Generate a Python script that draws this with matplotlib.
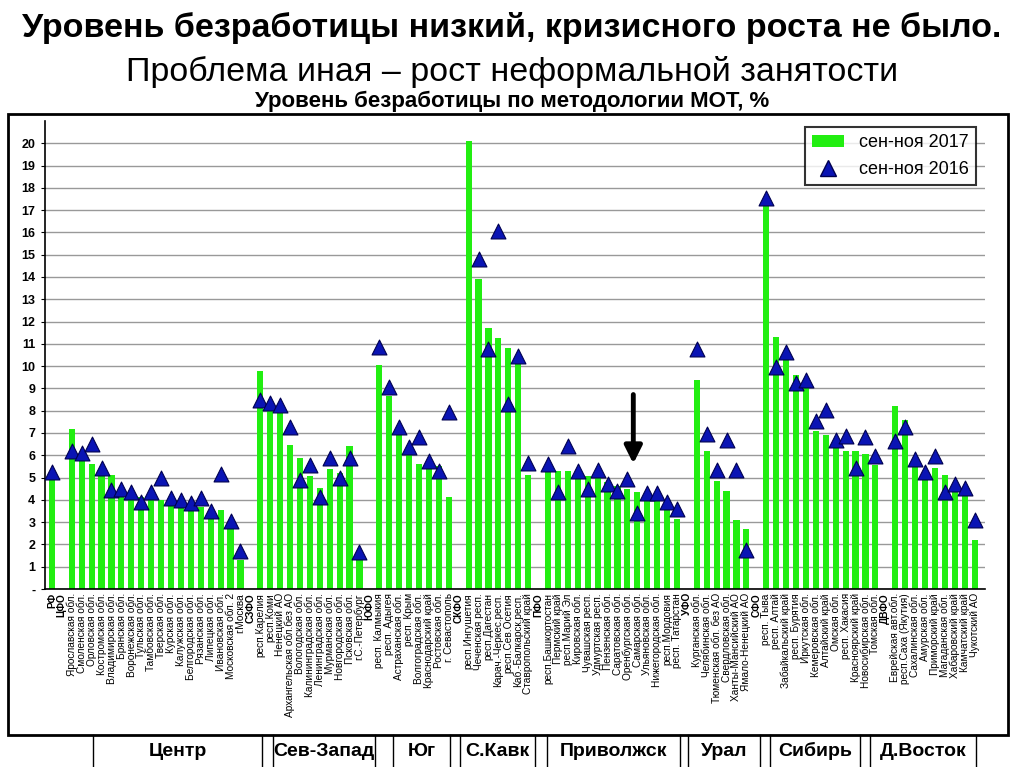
import numpy as np
import matplotlib
matplotlib.use('Agg')
from matplotlib import pyplot as plt
from matplotlib.lines import Line2D
from matplotlib.patches import Patch, Rectangle

plt.rcParams['font.family'] = ['Liberation Sans', 'DejaVu Sans']

# regions (district rows are empty slots)
regions = [
    'РФ', 'ЦФО', 'Ярославская обл.', 'Смоленская обл.', 'Орловская обл.', 'Костромская обл.',
    'Владимирская обл.', 'Брянская обл.', 'Воронежская обл.', 'Тульская обл.', 'Тамбовская обл.',
    'Тверская обл.', 'Курская обл.', 'Калужская обл.', 'Белгородская обл.', 'Рязанская обл.',
    'Липецкая обл.', 'Ивановская обл.', 'Московская обл. 2', 'г.Москва',
    'СЗФО', 'респ.Карелия', 'респ.Коми', 'Ненецкий АО', 'Архангельская обл.без АО',
    'Вологодская обл.', 'Калининградская обл.', 'Ленинградская обл.', 'Мурманская обл.',
    'Новгородская обл.', 'Псковская обл.', 'г.С.-Петербург',
    'ЮФО', 'респ. Калмыкия', 'респ. Адыгея', 'Астраханская обл.', 'респ. Крым',
    'Волгоградская обл.', 'Краснодарский край', 'Ростовская обл.', 'г. Севастополь',
    'СКФО', 'респ.Ингушетия', 'Чеченская респ.', 'респ.Дагестан', 'Карач.-Черкес.респ.',
    'респ.Сев.Осетия', 'Каб.-Балкарск.респ.', 'Ставропольский край',
    'ПФО', 'респ.Башкортостан', 'Пермский край', 'респ.Марий Эл', 'Кировская обл.',
    'Чувашская респ.', 'Удмуртская респ.', 'Пензенская обл.', 'Саратовская обл.',
    'Оренбургская обл.', 'Самарская обл.', 'Ульяновская обл.', 'Нижегородская обл.',
    'респ.Мордовия', 'респ. Татарстан',
    'УФО', 'Курганская обл.', 'Челябинская обл.', 'Тюменская обл. без АО', 'Свердловская обл.',
    'Ханты-Мансийский АО', 'Ямало-Ненецкий АО',
    'СФО', 'респ. Тыва', 'респ. Алтай', 'Забайкальский край', 'респ. Бурятия', 'Иркутская обл.',
    'Кемеровская обл.', 'Алтайский край', 'Омская обл.', 'респ. Хакасия', 'Красноярский край',
    'Новосибирская обл.', 'Томская обл.',
    'ДВФО', 'Еврейская авт.обл.', 'респ.Саха (Якутия)', 'Сахалинская обл.', 'Амурская обл.',
    'Приморский край', 'Магаданская обл.', 'Хабаровский край', 'Камчатский край', 'Чукотский АО',
]
districts = ['РФ', 'ЦФО', 'СЗФО', 'ЮФО', 'СКФО', 'ПФО', 'УФО', 'СФО', 'ДВФО']

n = np.nan
# сен-ноя 2017
u2017 = [
    5.1, n, 7.2, 6.0, 5.6, 5.3, 5.1, 4.4, 4.2, 4.15, 4.1, 4.0, 3.9, 3.85, 3.8, 3.7, 3.3, 3.55, 2.8, 1.3,
    n, 9.8, 8.2, 7.9, 6.45, 5.9, 5.05, 4.55, 5.4, 5.2, 6.4, 1.4,
    n, 10.05, 8.65, 7.05, 6.1, 5.6, 5.55, 5.5, 4.15,
    n, 20.1, 13.9, 11.7, 11.25, 10.8, 10.3, 5.1,
    n, 5.35, 5.3, 5.3, 5.2, 5.05, 5.0, 4.8, 4.6, 4.5, 4.35, 4.1, 4.05, 3.65, 3.15,
    n, 9.4, 6.2, 4.85, 4.4, 3.1, 2.7,
    n, 17.4, 11.3, 10.5, 9.6, 9.05, 7.1, 6.9, 6.45, 6.2, 6.2, 6.05, 5.55,
    n, 8.2, 7.6, 5.6, 5.05, 5.45, 5.1, 4.6, 4.3, 2.2,
]
# сен-ноя 2016
u2016 = [
    5.25, n, 6.2, 6.1, 6.5, 5.45, 4.45, 4.5, 4.35, 3.9, 4.35, 5.0, 4.1, 4.0, 3.85, 4.1, 3.5, 5.15, 3.05, 1.7,
    n, 8.5, 8.35, 8.25, 7.25, 4.9, 5.55, 4.15, 5.9, 5.0, 5.9, 1.65,
    n, 10.85, 9.05, 7.25, 6.35, 6.8, 5.75, 5.3, 7.95,
    n, n, 14.8, 10.75, 16.05, 8.3, 10.45, 5.65,
    n, 5.6, 4.35, 6.4, 5.3, 4.5, 5.35, 4.7, 4.4, 4.95, 3.4, 4.3, 4.3, 3.9, 3.6,
    n, 10.75, 6.95, 5.35, 6.7, 5.35, 1.75,
    n, 17.55, 9.95, 10.65, 9.25, 9.4, 7.55, 8.05, 6.7, 6.85, 5.45, 6.8, 5.95,
    n, 6.65, 7.25, 5.85, 5.25, 5.95, 4.35, 4.7, 4.55, 3.1,
]

groups = ['Центр', 'Сев-Запад', 'Юг', 'С.Кавк', 'Приволжск', 'Урал', 'Сибирь', 'Д.Восток']

x = np.arange(len(regions))

fig = plt.figure(figsize=(10.24, 7.67), dpi=100)
ax = fig.add_axes([45 / 1024, 1 - 589 / 767, 940 / 1024, 468 / 767])

ax.bar(x, u2017, width=0.62, color='#22ee11', zorder=2, label='сен-ноя 2017')
ax.scatter(x, u2016, marker='^', s=115, color='#0a14b4', edgecolor='#000050', linewidth=0.8,
           zorder=3, label='сен-ноя 2016')

ax.set_xlim(-0.7, 94.05)
ax.set_ylim(0, 21)
ax.set_yticks(range(0, 21))
ax.set_yticklabels(['-'] + [str(i) for i in range(1, 21)], fontsize=9, fontweight='bold')
ax.yaxis.grid(True, color='#999999', linewidth=1, zorder=0)
ax.set_axisbelow(True)
ax.set_xticks(x)
ax.set_xticklabels(regions, rotation=90, fontsize=7.3, va='top', ha='center')
for lbl in ax.get_xticklabels():
    if lbl.get_text() in districts:
        lbl.set_fontweight('bold')
ax.tick_params(axis='x', length=0, pad=3)
ax.tick_params(axis='y', length=3, pad=4)
ax.spines['top'].set_visible(False)
ax.spines['right'].set_visible(False)
ax.spines['left'].set_linewidth(1.2)
ax.spines['bottom'].set_linewidth(1.2)

# arrow pointing at Оренбургская/Самарская
ax.annotate('', xy=(58.6, 5.5), xytext=(58.6, 8.85),
            arrowprops=dict(arrowstyle='-|>', lw=3.5, color='black', mutation_scale=26))

handles = [Patch(facecolor='#22ee11', edgecolor='none', label='сен-ноя 2017'),
           Line2D([], [], marker='^', linestyle='none', markersize=11, markerfacecolor='#0a14b4',
                  markeredgecolor='#000050', label='сен-ноя 2016')]
leg = ax.legend(handles=handles, loc='upper right', bbox_to_anchor=(985 / 1024, 1 - 118 / 767),
                bbox_transform=fig.transFigure, fontsize=13, frameon=True, fancybox=False,
                edgecolor='black', handlelength=1.8, labelspacing=0.55, borderpad=0.4)
leg.get_frame().set_linewidth(1.5)

# titles
fig.text(0.5, 1 - 28 / 767, 'Уровень безработицы низкий, кризисного роста не было.',
         ha='center', va='center', fontsize=24.5, fontweight='bold')
fig.text(0.5, 1 - 72 / 767, 'Проблема иная – рост неформальной занятости',
         ha='center', va='center', fontsize=24.5)
fig.text(0.5, 1 - 101 / 767, 'Уровень безработицы по методологии МОТ, %',
         ha='center', va='center', fontsize=16, fontweight='bold')

# outer frame
fig.patches.append(Rectangle((8 / 1024, 1 - 735 / 767), 1000 / 1024, 621 / 767,
                             transform=fig.transFigure, fill=False, edgecolor='black', linewidth=2))

# bottom table with federal districts
vlines = [93, 262, 273, 375, 393, 450, 460, 535, 547, 680, 688, 760, 770, 860, 870, 976]
for vx in vlines:
    fig.add_artist(Line2D([vx / 1024, vx / 1024], [0, 1 - 735 / 767], color='black', linewidth=1,
                          transform=fig.transFigure))
centers = [(93 + 262) / 2, (273 + 375) / 2, (393 + 450) / 2, (460 + 535) / 2,
           (547 + 680) / 2, (688 + 760) / 2, (770 + 860) / 2, (870 + 976) / 2]
for cx, g in zip(centers, groups):
    fig.text(cx / 1024, 1 - 751 / 767, g, ha='center', va='center', fontsize=14, fontweight='bold')

fig.savefig('out.png', dpi=100)
